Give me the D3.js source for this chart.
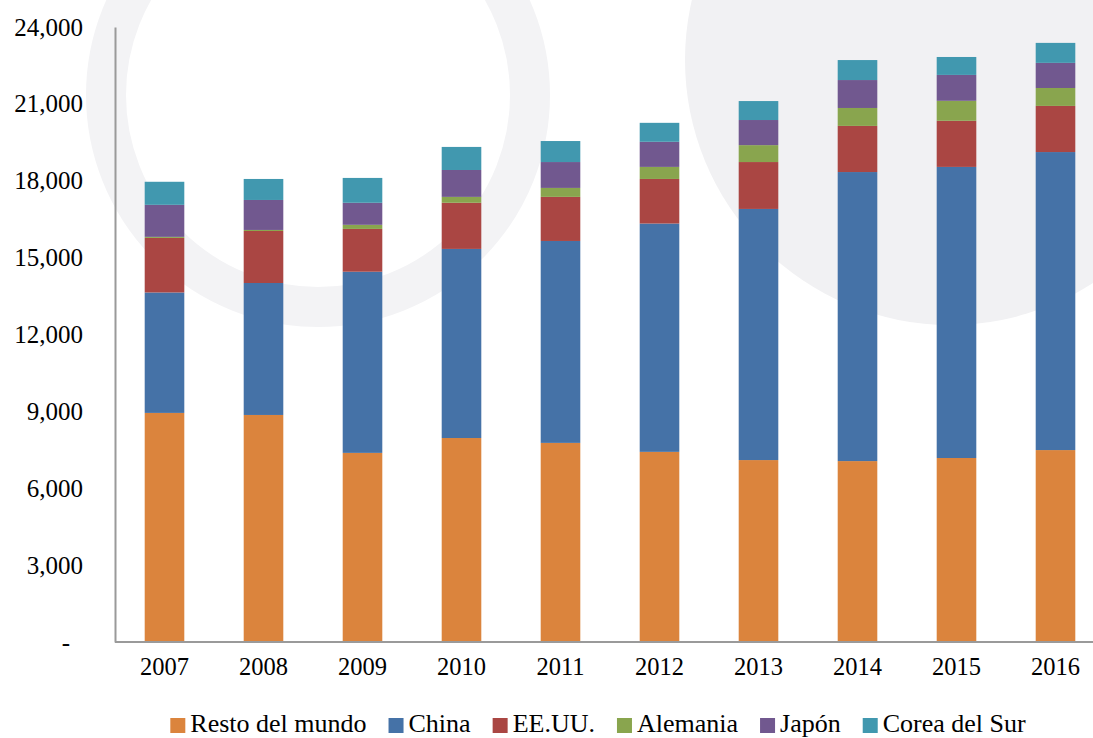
<!DOCTYPE html>
<html>
<head>
<meta charset="utf-8">
<script src="https://d3js.org/d3.v7.min.js"></script>
<style>
  body { margin: 0; background: #fff; }
  svg text { font-family: "Liberation Serif", Tinos, "Times New Roman", "DejaVu Serif", serif !important; fill: #000; }
</style>
</head>
<body>
<script>
// chart data
var years = ["2007", "2008", "2009", "2010", "2011", "2012", "2013", "2014", "2015", "2016"];
var series = ["Resto del mundo", "China", "EE.UU.", "Alemania", "Japón", "Corea del Sur"];
var resto   = [8940, 8860, 7380, 7960, 7770, 7420, 7100, 7060, 7180, 7490];
var china   = [4700, 5150, 7070, 7380, 7880, 8910, 9800, 11280, 11360, 11630];
var eeuu    = [2130, 2030, 1670, 1800, 1720, 1740, 1830, 1800, 1800, 1800];
var alemania = [40, 40, 160, 230, 350, 470, 660, 700, 780, 700];
var japon   = [1250, 1170, 860, 1050, 1010, 980, 980, 1090, 1010, 980];
var corea   = [900, 820, 970, 900, 820, 740, 740, 780, 700, 780];
var yTicks = [0, 3000, 6000, 9000, 12000, 15000, 18000, 21000, 24000];
var colors = ["#DB843D", "#4572A7", "#AA4643", "#89A54E", "#71588F", "#4198AF"];

var serif = "'Liberation Serif', Tinos, 'Times New Roman', serif";
var width = 1093, height = 738;
var margin = {top: 27, bottom: 96, left: 115};
var baseY = height - margin.bottom; // 642

var svg = d3.select("body").append("svg")
    .attr("width", width)
    .attr("height", height);

// faint watermark in the background
var wm = svg.append("g").attr("class", "watermark");
wm.append("circle")
    .attr("cx", 318).attr("cy", 95).attr("r", 212)
    .attr("fill", "none").attr("stroke", "#f3f3f5").attr("stroke-width", 40);
wm.append("circle")
    .attr("cx", 950).attr("cy", 60).attr("r", 265)
    .attr("fill", "#f1f1f3");

// build rows and stack them
var rows = years.map(function(y, i) {
  return {year: y, "Resto del mundo": resto[i], "China": china[i], "EE.UU.": eeuu[i],
          "Alemania": alemania[i], "Japón": japon[i], "Corea del Sur": corea[i]};
});
var stacked = d3.stack().keys(series)(rows);

var x = d3.scaleBand()
    .domain(years)
    .range([margin.left, margin.left + 990])
    .paddingInner(0.6)
    .paddingOuter(0.3);

var y = d3.scaleLinear()
    .domain([0, 24000])
    .range([baseY, margin.top]);

var color = d3.scaleOrdinal().domain(series).range(colors);

// bars
svg.append("g").selectAll("g")
  .data(stacked)
  .enter().append("g")
    .attr("fill", function(d) { return color(d.key); })
  .selectAll("rect")
  .data(function(d) { return d; })
  .enter().append("rect")
    .attr("x", function(d) { return x(d.data.year); })
    .attr("y", function(d) { return y(d[1]); })
    .attr("height", function(d) { return y(d[0]) - y(d[1]); })
    .attr("width", x.bandwidth());

// y axis
var fmt = d3.format(",");
var yAxis = svg.append("g")
    .attr("transform", "translate(" + margin.left + ",0)")
    .call(d3.axisLeft(y).tickValues(yTicks).tickSize(0).tickPadding(32)
      .tickFormat(function(d) { return d === 0 ? "-" : fmt(d); }));
yAxis.attr("font-family", serif);
yAxis.select(".domain").attr("stroke", "#9a9a9a").attr("stroke-width", 2);
yAxis.selectAll("text")
    .style("font-family", serif)
    .style("font-size", "25px")
    .attr("dx", function(d) { return d === 0 ? -13 : 0; });

// x axis
var xAxis = svg.append("g")
    .attr("transform", "translate(0," + baseY + ")")
    .call(d3.axisBottom(x).tickSize(0).tickPadding(16));
xAxis.attr("font-family", serif);
xAxis.select(".domain").remove();
xAxis.append("line")
    .attr("x1", margin.left).attr("x2", width)
    .attr("y1", 0).attr("y2", 0)
    .attr("stroke", "#9a9a9a").attr("stroke-width", 2);
xAxis.selectAll("text").style("font-family", serif).style("font-size", "24.5px");

// legend
var legend = svg.append("g").attr("transform", "translate(0,732)");
var items = legend.selectAll("g")
  .data(series)
  .enter().append("g");
items.append("rect")
    .attr("y", -14)
    .attr("width", 15).attr("height", 15)
    .attr("fill", function(d) { return color(d); });
items.append("text")
    .attr("x", 20)
    .style("font-family", serif)
    .style("font-size", "26px")
    .text(function(d) { return d; });

var gap = 22, pos = 0;
items.each(function() {
  var w = d3.select(this).select("text").node().getComputedTextLength();
  d3.select(this).attr("transform", "translate(" + pos + ",0)");
  pos += 20 + w + gap;
});
var total = pos - gap;
legend.attr("transform", "translate(" + (598 - total / 2) + ",732)");
</script>
</body>
</html>
